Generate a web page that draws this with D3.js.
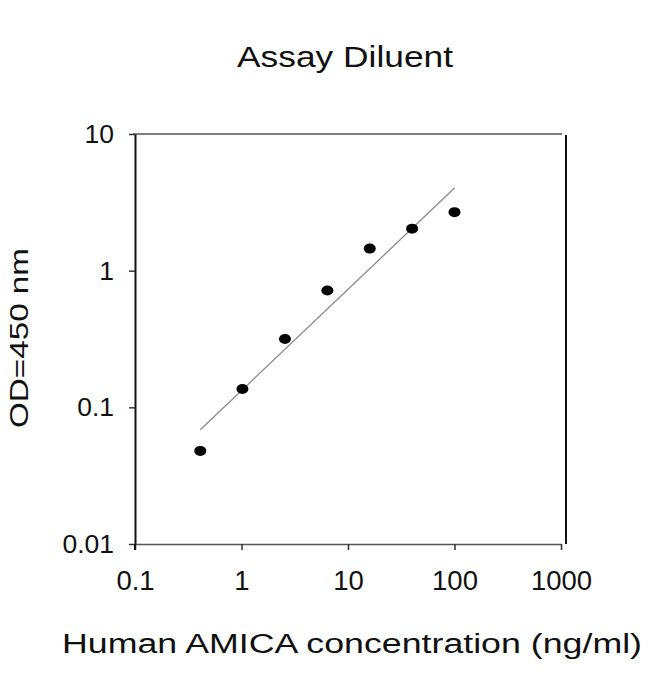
<!DOCTYPE html>
<html>
<head>
<meta charset="utf-8">
<script src="https://cdn.jsdelivr.net/npm/d3@7"></script>
<style>
  html, body { margin: 0; padding: 0; background: #fff; }
  svg { display: block; font-family: "Liberation Sans", Arial, sans-serif; }
</style>
</head>
<body>
<svg id="chart" width="650" height="674"></svg>
<script>
// ---- data ----
const concentration = [0.41, 1.02, 2.56, 6.4, 16, 40, 100];      // ng/ml
const odValues      = [0.048, 0.136, 0.316, 0.716, 1.45, 2.03, 2.68];
const fitX = [0.41, 100];
const fitY = [0.0685, 4.02];
const xTickValues = [0.1, 1, 10, 100, 1000];
const xTickLabels = ["0.1", "1", "10", "100", "1000"];
const yTickValues = [0.01, 0.1, 1, 10];
const yTickLabels = ["0.01", "0.1", "1", "10"];
const titleText = "Assay Diluent";
const xLabelText = "Human AMICA concentration (ng/ml)";
const yLabelText = "OD=450 nm";

// ---- layout ----
const svg = d3.select("#chart");
const x = d3.scaleLog().domain([0.1, 1000]).range([135, 561]);
const y = d3.scaleLog().domain([0.01, 10]).range([544, 134]);

// frame (top and right)
svg.append("line").attr("x1", 133).attr("x2", 562).attr("y1", y(10)).attr("y2", y(10))
  .attr("stroke", "#555").attr("stroke-width", 1.5);
svg.append("line").attr("x1", 566).attr("x2", 566).attr("y1", 135).attr("y2", 544)
  .attr("stroke", "#111").attr("stroke-width", 2);

// x axis
const xAxis = d3.axisBottom(x).tickValues(xTickValues)
  .tickFormat((d, i) => xTickLabels[i]).tickSize(6).tickSizeOuter(0).tickPadding(20);
const gx = svg.append("g").attr("transform", `translate(0,${y(0.01)})`).call(xAxis);
gx.select(".domain").attr("stroke", "#555").attr("stroke-width", 1.5);
gx.selectAll(".tick line").attr("stroke", "#333").attr("stroke-width", 1.5);
gx.selectAll("text").attr("font-size", 27.5).attr("fill", "#111")
  .style("font-family", "Liberation Sans, Arial, sans-serif");

// y axis
const yAxis = d3.axisLeft(y).tickValues(yTickValues)
  .tickFormat((d, i) => yTickLabels[i]).tickSize(6).tickSizeOuter(0).tickPadding(15);
const gy = svg.append("g").attr("transform", `translate(${x(0.1)},0)`).call(yAxis);
gy.select(".domain").attr("stroke", "#111").attr("stroke-width", 2);
gy.selectAll(".tick line").attr("stroke", "#333").attr("stroke-width", 1.5);
gy.selectAll("text").attr("font-size", 26.5).attr("fill", "#111")
  .style("font-family", "Liberation Sans, Arial, sans-serif");
// extend left axis down to tick length
svg.append("line").attr("x1", x(0.1)).attr("x2", x(0.1)).attr("y1", 544).attr("y2", 550)
  .attr("stroke", "#111").attr("stroke-width", 2);

// fit line
const line = d3.line().x(d => x(d[0])).y(d => y(d[1]));
svg.append("path").datum(fitX.map((v, i) => [v, fitY[i]]))
  .attr("d", line).attr("fill", "none").attr("stroke", "#8a8a8a").attr("stroke-width", 1.3);

// points
svg.selectAll("ellipse.pt").data(concentration).enter().append("ellipse")
  .attr("class", "pt")
  .attr("cx", d => x(d)).attr("cy", (d, i) => y(odValues[i]))
  .attr("rx", 6).attr("ry", 5).attr("fill", "#000");

// title
svg.append("text").attr("x", 345).attr("y", 67).attr("text-anchor", "middle")
  .attr("font-size", 30).attr("fill", "#111")
  .attr("textLength", 216).attr("lengthAdjust", "spacingAndGlyphs").text(titleText);

// x label
svg.append("text").attr("x", 352).attr("y", 653).attr("text-anchor", "middle")
  .attr("font-size", 27).attr("fill", "#111")
  .attr("textLength", 580).attr("lengthAdjust", "spacingAndGlyphs").text(xLabelText);

// y label
svg.append("text").attr("transform", "translate(28,338) rotate(-90)")
  .attr("text-anchor", "middle").attr("font-size", 25).attr("fill", "#111")
  .attr("textLength", 180).attr("lengthAdjust", "spacingAndGlyphs").text(yLabelText);
</script>
</body>
</html>
